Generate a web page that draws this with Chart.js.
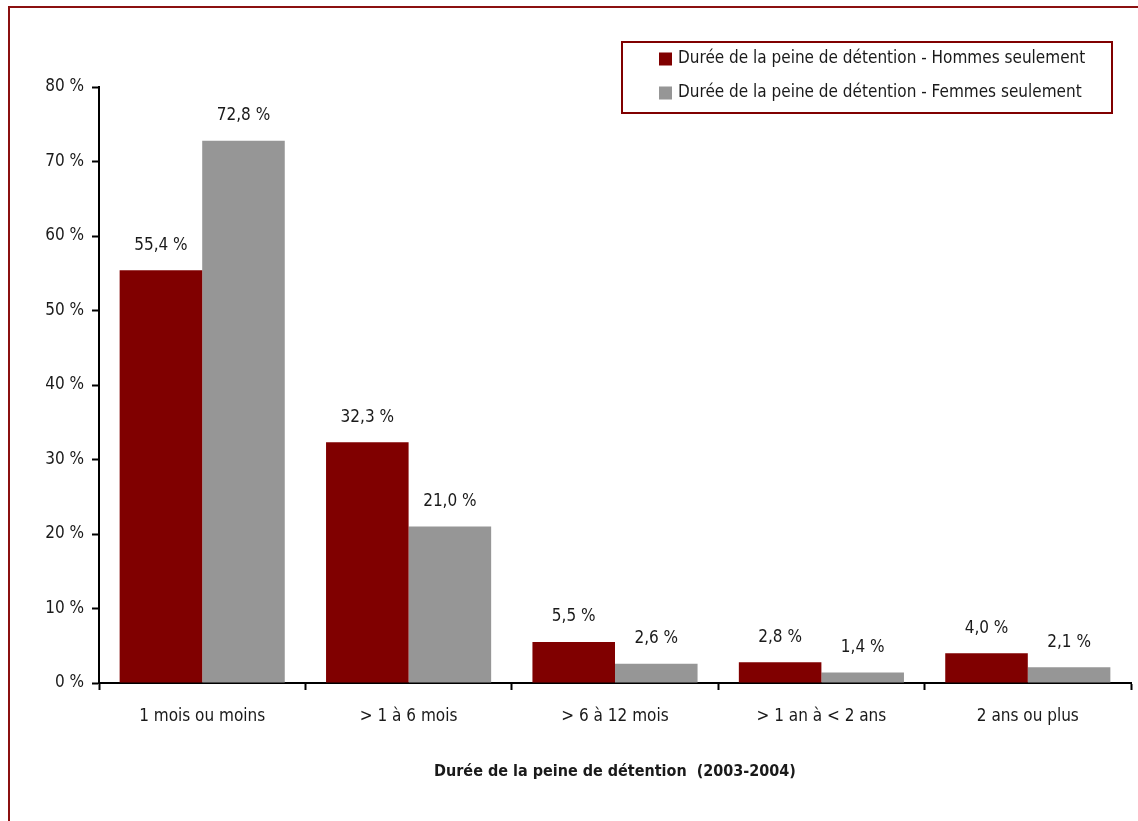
<!DOCTYPE html>
<html>
<head>
<meta charset="utf-8">
<script src="https://cdn.jsdelivr.net/npm/chart.js@4.4.0/dist/chart.umd.min.js"></script>
<style>
  html, body { margin: 0; padding: 0; background: #fff; }
  #wrap { width: 1138px; height: 821px; position: relative; }
</style>
</head>
<body>
<div id="wrap"><canvas id="c" width="1138" height="821"></canvas></div>
<script>
const categories = ["1 mois ou moins", "> 1 à 6 mois", "> 6 à 12 mois", "> 1 an à < 2 ans", "2 ans ou plus"];
const hommes = [55.4, 32.3, 5.5, 2.8, 4.0];
const femmes = [72.8, 21.0, 2.6, 1.4, 2.1];
const seriesLabels = ["Durée de la peine de détention - Hommes seulement", "Durée de la peine de détention - Femmes seulement"];
const yTicks = [0, 10, 20, 30, 40, 50, 60, 70, 80];
const xTitle = "Durée de la peine de détention  (2003-2004)";

const FONT = "'Liberation Sans Narrow', 'Arial Narrow', 'DejaVu Sans Condensed', sans-serif";
const TXT = '#1a1a1a';
const RED = '#800000';
const GREY = '#969696';

const fmt = v => v.toFixed(1).replace('.', ',') + ' %';

const framePlugin = {
  id: 'frame',
  afterDraw(chart) {
    const ctx = chart.ctx;
    ctx.save();
    // outer frame
    ctx.strokeStyle = '#8b1010';
    ctx.lineWidth = 2;
    ctx.strokeRect(9, 7, 1140, 830);
    // data labels
    ctx.font = '17px ' + FONT;
    ctx.fillStyle = TXT;
    ctx.textAlign = 'center';
    ctx.textBaseline = 'middle';
    chart.data.datasets.forEach((ds, i) => {
      const meta = chart.getDatasetMeta(i);
      meta.data.forEach((bar, j) => {
        ctx.fillText(fmt(ds.data[j]), bar.x, bar.y - 25);
      });
    });
    // legend box
    const lx = 622, ly = 42, lw = 490, lh = 71;
    ctx.fillStyle = '#fff';
    ctx.fillRect(lx, ly, lw, lh);
    ctx.strokeStyle = RED;
    ctx.lineWidth = 2;
    ctx.strokeRect(lx, ly, lw, lh);
    ctx.textAlign = 'left';
    chart.data.datasets.forEach((ds, i) => {
      const cy = 59 + i * 34;
      ctx.fillStyle = ds.backgroundColor;
      ctx.fillRect(659, cy - 6.5, 13, 13);
      ctx.fillStyle = TXT;
      ctx.fillText(ds.label, 678, cy);
    });
    ctx.restore();
  }
};

new Chart(document.getElementById('c'), {
  type: 'bar',
  data: {
    labels: categories,
    datasets: [
      { label: seriesLabels[0], data: hommes, backgroundColor: RED },
      { label: seriesLabels[1], data: femmes, backgroundColor: GREY }
    ]
  },
  options: {
    responsive: false,
    animation: false,
    devicePixelRatio: 1,
    layout: { padding: { left: 0, right: 7, top: 87, bottom: 0 } },
    datasets: { bar: { categoryPercentage: 0.8, barPercentage: 1.0 } },
    plugins: { legend: { display: false }, tooltip: { enabled: false } },
    scales: {
      x: {
        offset: true,
        grid: { display: true, drawOnChartArea: false, drawTicks: true, offset: true, tickLength: 7, tickWidth: 2, tickColor: '#000' },
        border: { display: true, color: '#000', width: 2 },
        ticks: { color: TXT, font: { family: FONT, size: 17 }, padding: 16, maxRotation: 0 },
        title: { display: true, text: xTitle, color: TXT, font: { family: FONT, size: 16, weight: 'bold' }, padding: { top: 0, bottom: 40 } },
        afterFit(s) { s.height = 821 - 683; }
      },
      y: {
        min: 0, max: 80,
        afterBuildTicks(s) { s.ticks = yTicks.map(v => ({ value: v })); },
        grid: { display: true, drawOnChartArea: false, drawTicks: true, tickLength: 7, tickWidth: 2, tickColor: '#000' },
        border: { display: true, color: '#000', width: 2 },
        ticks: { color: TXT, font: { family: FONT, size: 17 }, padding: 8, callback: v => v + ' %' },
        afterFit(s) { s.width = 99; }
      }
    }
  },
  plugins: [framePlugin]
});
</script>
</body>
</html>
